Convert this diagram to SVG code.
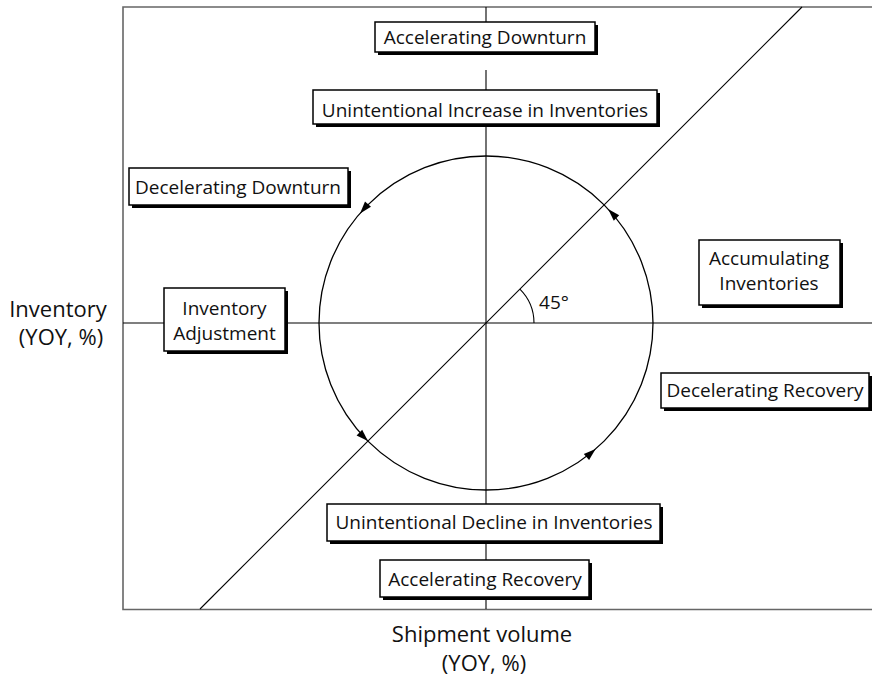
<svg xmlns="http://www.w3.org/2000/svg" width="872" height="677" viewBox="0 0 872 677">
  <style>
    .frame { fill: none; stroke: #666; stroke-width: 1.6; }
    .axis { fill: none; stroke: #000; stroke-width: 1.1; }
    .cycle { fill: none; stroke: #000; stroke-width: 1.3; }
    .head { fill: #000; stroke: none; }
    .shadow { fill: #000; }
    .box { fill: #fff; stroke: #000; stroke-width: 1.5; }
    .lbl { font-family: "Open Sans", "Noto Sans", "DejaVu Sans", sans-serif; font-size: 19px; fill: #111; text-anchor: middle; }
    .ax { font-family: "Open Sans", "Noto Sans", "DejaVu Sans", sans-serif; font-size: 22px; fill: #111; text-anchor: middle; }
  </style>

  <rect width="872" height="677" fill="#fff"/>

  <!-- plot frame (open on the right) -->
  <path class="frame" d="M872 7 H123 V609.5 H872"/>

  <g id="connectors">
    <!-- axes -->
    <line class="axis" x1="123" y1="323" x2="872" y2="323"/>
    <line class="axis" x1="486" y1="7" x2="486" y2="22"/>
    <line class="axis" x1="486" y1="70" x2="486" y2="609"/>
    <!-- 45 degree line -->
    <line class="axis" x1="200" y1="609" x2="802" y2="7"/>
    <!-- angle marker -->
    <path class="axis" d="M534 323 A48 48 0 0 0 519.9 289.1"/>
    <!-- inventory cycle, running counter-clockwise -->
    <circle class="cycle" cx="486" cy="323" r="167"/>
    <polygon class="head" points="360,213.4 365,201.5 371,206.8"/>
    <polygon class="head" points="608.1,209.1 619.2,215.2 613.8,220.8"/>
    <polygon class="head" points="367.9,441.1 356.6,435.4 362.2,429.8"/>
    <polygon class="head" points="595.6,449 589.1,459.9 583.8,454"/>
  </g>

  <text class="lbl" x="554" y="309">45°</text>

  <g id="accelerating-downturn">
    <rect class="shadow" x="378" y="25" width="220" height="30"/>
    <rect class="box" x="375" y="22" width="220" height="30"/>
    <text class="lbl" x="485" y="44">Accelerating Downturn</text>
  </g>

  <g id="unintentional-increase">
    <rect class="shadow" x="316" y="93" width="344" height="34"/>
    <rect class="box" x="313" y="90" width="344" height="34"/>
    <text class="lbl" x="485" y="117">Unintentional Increase in Inventories</text>
  </g>

  <g id="decelerating-downturn">
    <rect class="shadow" x="132" y="171" width="219" height="37"/>
    <rect class="box" x="129" y="168" width="219" height="37"/>
    <text class="lbl" x="238" y="194">Decelerating Downturn</text>
  </g>

  <g id="inventory-adjustment">
    <rect class="shadow" x="167" y="291" width="121" height="63"/>
    <rect class="box" x="164" y="288" width="121" height="63"/>
    <text class="lbl" x="224.5" y="315">Inventory</text>
    <text class="lbl" x="224.5" y="340">Adjustment</text>
  </g>

  <g id="accumulating-inventories">
    <rect class="shadow" x="702" y="243" width="141" height="65"/>
    <rect class="box" x="699" y="240" width="141" height="65"/>
    <text class="lbl" x="769" y="265">Accumulating</text>
    <text class="lbl" x="769" y="290">Inventories</text>
  </g>

  <g id="decelerating-recovery">
    <rect class="shadow" x="664" y="376" width="208" height="35"/>
    <rect class="box" x="661" y="373" width="208" height="35"/>
    <text class="lbl" x="765" y="397">Decelerating Recovery</text>
  </g>

  <g id="unintentional-decline">
    <rect class="shadow" x="330" y="507" width="333" height="37"/>
    <rect class="box" x="327" y="504" width="333" height="37"/>
    <text class="lbl" x="494" y="529">Unintentional Decline in Inventories</text>
  </g>

  <g id="accelerating-recovery">
    <rect class="shadow" x="383" y="563" width="209" height="37"/>
    <rect class="box" x="380" y="560" width="209" height="37"/>
    <text class="lbl" x="485" y="586">Accelerating Recovery</text>
  </g>

  <!-- axis titles -->
  <text class="ax" x="58" y="317">Inventory</text>
  <text class="ax" x="61" y="345">(YOY, %)</text>
  <text class="ax" x="482" y="642">Shipment volume</text>
  <text class="ax" x="484" y="671">(YOY, %)</text>
</svg>
